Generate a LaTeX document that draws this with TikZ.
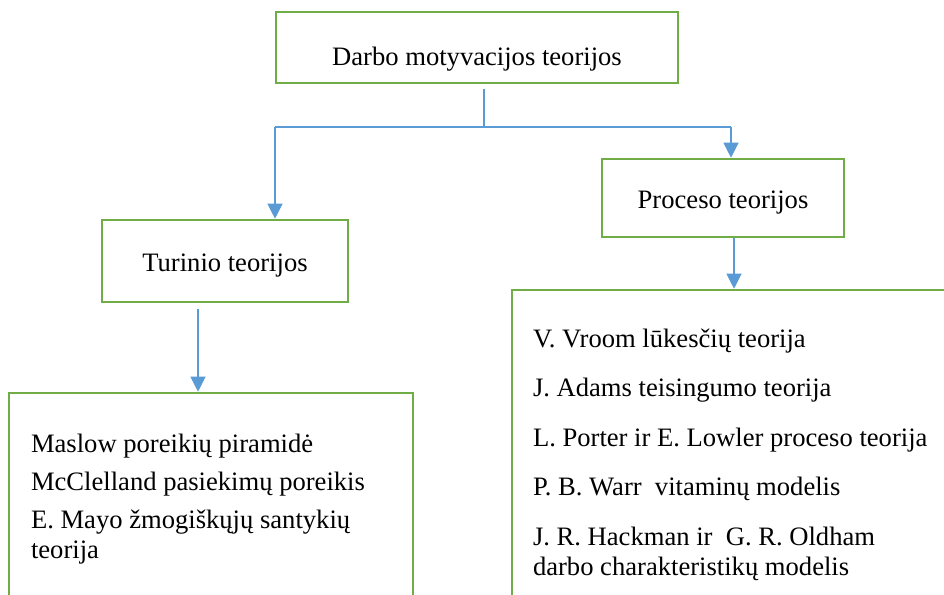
\documentclass[tikz,border=0pt]{standalone}
\usepackage{fontspec}
\setmainfont{Liberation Serif}
\usepackage{tikz}
\usepackage{xcolor}
\usetikzlibrary{arrows.meta}
\definecolor{boxgreen}{RGB}{112,173,71}
\definecolor{linkblue}{RGB}{91,155,213}
\frenchspacing

\begin{document}
\begin{tikzpicture}[x=1pt, y=-1pt,
	box/.style={draw=boxgreen, line width=2.6pt, inner sep=0pt, font=\fontsize{26.6}{30.5}\selectfont},
	listbox/.style={box, anchor=north west, align=left, execute at begin node={\spaceskip=0pt\relax\xspaceskip=0pt\relax}},
	link/.style={draw=linkblue, line width=1.2pt},
	tip/.style={link, -{Triangle[width=15pt,length=15pt]}}]
	\useasboundingbox (0,0) rectangle (944,594);
	\clip (0,0) rectangle (944,594);
	\node[box, minimum width=402pt, text height=53pt, text depth=18pt] (darbo) at (477,47.5) {Darbo motyvacijos teorijos};
	\node[box, minimum width=246pt, text height=51pt, text depth=31pt] (turinio) at (225,261) {Turinio teorijos};
	\node[box, minimum width=242pt, text height=49pt, text depth=29pt] (proceso) at (723,198) {Proceso teorijos};
	\node[listbox, text width=360pt, inner xsep=22pt, text height=59pt, text depth=170pt] (turlist) at (7.7,391.7)
	{Maslow poreikių piramidė\\[7.5pt]
	McClelland pasiekimų poreikis\\[7.5pt]
	E. Mayo žmogiškųjų santykių\\
	teorija};
	\node[listbox, text width=430pt, inner xsep=21pt, text height=57pt, text depth=290pt] (proclist) at (510.7,288.7)
	{V. Vroom lūkesčių teorija\\[19pt]
	J. Adams teisingumo teorija\\[19pt]
	L. Porter ir E. Lowler proceso teorija\\[19pt]
	P. B. Warr~ vitaminų modelis\\[19pt]
	J. R. Hackman ir~ G. R. Oldham\\
	darbo charakteristikų modelis};
	\coordinate (lend) at (275,127);
	\coordinate (rend) at (731,127);
	\draw[link, shorten <=5pt] ([xshift=7]darbo.south) -- ([xshift=7]darbo.south |- lend);
	\draw[link] (lend) -- (rend);
	\draw[tip] (lend) -- (lend |- turinio.north);
	\draw[tip] (rend) -- (rend |- proceso.north);
	\draw[tip, shorten <=6pt] ([xshift=-27]turinio.south) -- ([xshift=-27]turinio.south |- turlist.north);
	\draw[tip] ([xshift=11]proceso.south) -- ([xshift=11]proceso.south |- proclist.north);
\end{tikzpicture}
\end{document}
